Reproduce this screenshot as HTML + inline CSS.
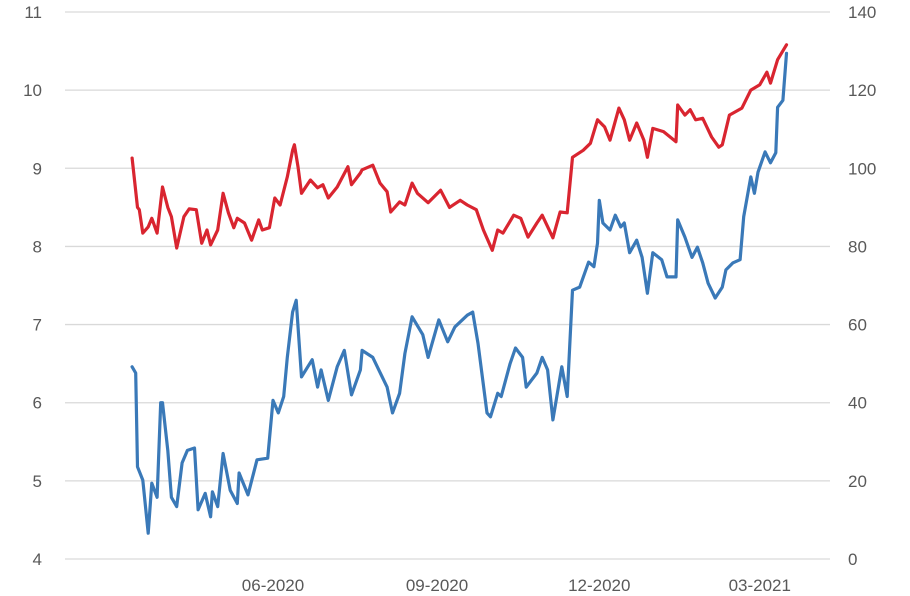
<!DOCTYPE html>
<html><head><meta charset="utf-8"><style>
html,body{margin:0;padding:0;background:#fff;}
svg{display:block;font-family:"Liberation Sans",sans-serif;}
.tk{font-size:17px;fill:#595959;}
</style></head><body>
<svg id="chart" width="910" height="596" viewBox="0 0 910 596">
<g id="grid"></g>
<g id="yl"></g>
<g id="yr"></g>
<g id="xa"></g>
<g id="series"></g>
</svg>
<script>
const leftTicks=[4,5,6,7,8,9,10,11];
const rightTicks=[0,20,40,60,80,100,120,140];
const xTickLabels=["06-2020","09-2020","12-2020","03-2021"];
const xTickDays=[0,92,183,273];
const redDays=[-79,-76,-75,-73,-70,-68,-65,-62,-59,-57,-54,-50,-47,-43,-40,-37,-35,-31,-28,-25,-22,-20,-16,-12,-8,-6,-2,1,4,8,11,12,14,16,21,25,28,31,36,42,44,49,50,56,60,64,66,71,74,78,81,87,94,99,105,109,114,118,123,126,129,135,139,143,148,151,157,161,165,168,174,178,182,186,189,194,197,200,204,208,210,213,219,226,227,231,234,237,241,246,250,252,256,263,268,273,277,279,283,288];
const redValues=[9.13,8.5,8.47,8.17,8.25,8.36,8.17,8.76,8.5,8.38,7.98,8.38,8.48,8.47,8.04,8.21,8.02,8.21,8.68,8.43,8.24,8.36,8.3,8.08,8.34,8.21,8.24,8.62,8.53,8.89,9.23,9.3,9.02,8.68,8.85,8.75,8.79,8.62,8.76,9.02,8.79,8.94,8.98,9.04,8.81,8.7,8.44,8.57,8.53,8.81,8.68,8.56,8.72,8.5,8.59,8.53,8.47,8.21,7.95,8.21,8.17,8.4,8.36,8.12,8.3,8.4,8.11,8.44,8.43,9.14,9.23,9.32,9.62,9.53,9.36,9.77,9.62,9.36,9.58,9.36,9.14,9.51,9.47,9.34,9.81,9.68,9.75,9.62,9.64,9.4,9.27,9.3,9.68,9.77,10.0,10.07,10.23,10.09,10.39,10.58];
const blueDays=[-79,-77,-76,-73,-70,-68,-65,-63,-62,-59,-57,-54,-51,-48,-44,-42,-38,-35,-34,-31,-28,-24,-20,-19,-14,-9,-3,0,3,6,8,11,13,16,22,25,27,31,36,40,44,49,50,56,64,67,71,74,78,84,87,93,98,102,109,112,115,120,122,126,128,133,136,140,142,148,151,154,157,162,165,168,172,177,180,182,183,185,189,192,195,197,200,204,207,210,213,218,221,226,227,231,235,238,241,244,248,252,254,258,262,264,268,270,272,276,279,282,283,286,288];
const blueValues=[49.2,47.6,23.6,20.2,6.6,19.4,15.8,40,40,27.8,15.8,13.4,24.6,27.8,28.4,12.6,16.8,10.8,17.2,13.4,27,17.6,14.2,22,16.4,25.4,25.8,40.6,37.4,41.6,51.6,63.2,66.2,46.6,51,44,48.4,40.6,49.2,53.4,42,48.4,53.4,51.6,44,37.4,42.4,52.6,62,57.4,51.6,61.2,55.6,59.4,62.4,63.2,55.2,37.4,36.4,42.4,41.6,50,54,51.6,44,47.6,51.6,48.4,35.6,49.2,41.6,68.8,69.6,76,74.8,80.8,91.8,86,84.2,88,85,86,78.4,81.6,77.2,68,78.4,76.6,72.2,72.2,86.8,82.4,77.2,79.8,75.8,70.6,66.8,69.6,74,75.8,76.6,87.6,97.8,93.6,99,104.2,101.4,104,115.6,117.4,129.4];

const NS="http://www.w3.org/2000/svg";
const plotTop=12,plotBot=559,x0=65,x1=830;
const xS=d=>273+d*1.783;
const yL=v=>plotBot-(v-4)/7*(plotBot-plotTop);
const yR=v=>plotBot-v/140*(plotBot-plotTop);
function mk(t,a){const e=document.createElementNS(NS,t);for(const k in a)e.setAttribute(k,a[k]);return e;}
const grid=document.getElementById('grid'),yl=document.getElementById('yl'),yr=document.getElementById('yr'),xa=document.getElementById('xa'),ser=document.getElementById('series');
leftTicks.forEach(v=>{
  const l=mk('line',{x1:x0,x2:x1,y1:yL(v),y2:yL(v),stroke:'#d9d9d9','stroke-width':1.3});
  
  
  grid.appendChild(l);
  const t=mk('text',{x:42,y:yL(v)+6,'text-anchor':'end',class:'tk'});t.textContent=v;
  
  
  yl.appendChild(t);
});
rightTicks.forEach(v=>{
  const t=mk('text',{x:848,y:yR(v)+6,'text-anchor':'start',class:'tk'});t.textContent=v;
  
  
  yr.appendChild(t);
});
xTickLabels.forEach((s,i)=>{
  const t=mk('text',{x:xS(xTickDays[i]),y:591,'text-anchor':'middle',class:'tk'});t.textContent=s;
  
  
  xa.appendChild(t);
});
function path(days,vals,sc,col,name){
  const d=days.map((x,i)=>(i?'L':'M')+xS(x).toFixed(1)+','+sc(vals[i]).toFixed(1)).join('');
  const p=mk('path',{d:d,fill:'none',stroke:col,'stroke-width':3.2,'stroke-linejoin':'round','stroke-linecap':'round'});
  
  
  ser.appendChild(p);
}
path(blueDays,blueValues,yR,'#3a79b8','blue-series-line');
path(redDays,redValues,yL,'#d92530','red-series-line');
</script>
</body></html>
